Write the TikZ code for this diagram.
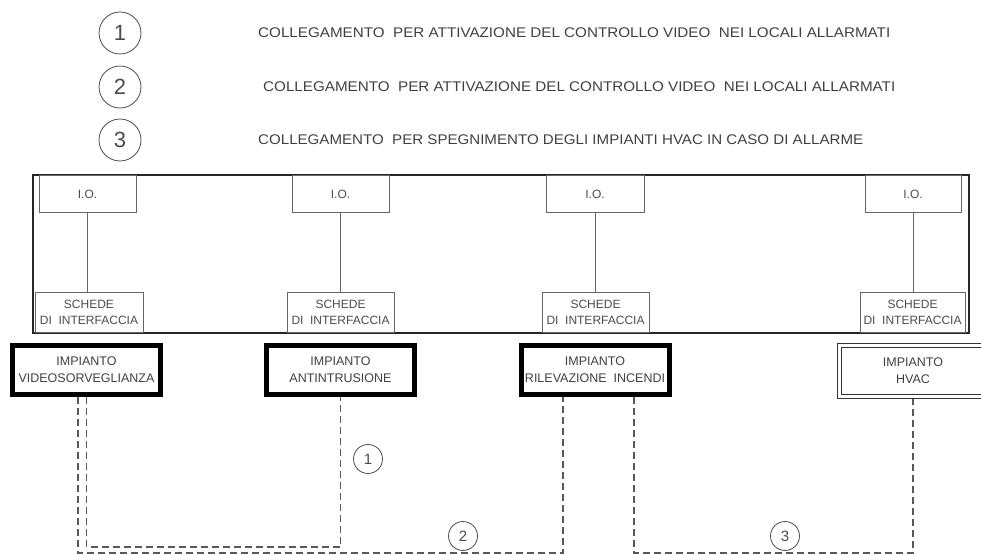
\documentclass[tikz,border=0pt]{standalone}
\usepackage{fontspec}
\setmainfont{Liberation Sans}
\usepackage{graphicx}
\begin{document}
\begin{tikzpicture}[x=1pt,y=-1pt,
  frame/.style={draw=black!85,line width=1.3pt},
  iobox/.style={draw=black!60,line width=0.9pt,inner sep=0pt,text=black!70,font=\fontsize{12}{16}\selectfont,align=center},
  wire/.style={draw=black!60,line width=0.9pt},
  plant/.style={draw=black,line width=5pt,minimum width=148pt,minimum height=49pt,inner sep=0pt,text=black!75,font=\fontsize{12.5}{17}\selectfont,align=center},
  hvac/.style={draw=black!80,line width=0.9pt,double,double distance=3.5pt,minimum width=147pt,minimum height=51pt,inner sep=0pt,text=black!75,font=\fontsize{12.5}{17}\selectfont,align=center},
  link/.style={draw=black!65,line width=1.1pt,dash pattern=on 7pt off 4pt},
  tag/.style={circle,draw=black!70,line width=0.8pt,minimum size=29pt,inner sep=0pt,font=\fontsize{15}{15}\selectfont,text=black!70},
  bigtag/.style={tag,minimum size=42pt,font=\fontsize{22}{22}\selectfont},
  legend/.style={anchor=west,inner sep=0pt,text=black!75,font=\fontsize{14}{14}\selectfont},
]
\useasboundingbox (0,0) rectangle (981,554);
\clip (0,0) rectangle (981,554);

% legend
\node[bigtag] (L1) at (120,33) {1};
\node[bigtag] (L2) at (120,87) {2};
\node[bigtag] (L3) at (120,140) {3};
\node[legend] (T1) at (258,33) {\resizebox{632pt}{\height}{COLLEGAMENTO\ \ PER ATTIVAZIONE DEL CONTROLLO VIDEO\ \ NEI LOCALI ALLARMATI}};
\node[legend] (T2) at (263,87) {\resizebox{632pt}{\height}{COLLEGAMENTO\ \ PER ATTIVAZIONE DEL CONTROLLO VIDEO\ \ NEI LOCALI ALLARMATI}};
\node[legend] (T3) at (258,140) {\resizebox{605pt}{\height}{COLLEGAMENTO\ \ PER SPEGNIMENTO DEGLI IMPIANTI HVAC IN CASO DI ALLARME}};

% frame
\draw[frame] (33,175) rectangle (969,333);

% I.O. boxes
\node[iobox,minimum width=97pt,minimum height=37pt,anchor=north] (io1) at (87.5,175) {I.O.};
\node[iobox,minimum width=97pt,minimum height=37pt,anchor=north] (io2) at (340.5,175) {I.O.};
\node[iobox,minimum width=98pt,minimum height=37pt,anchor=north] (io3) at (595,175) {I.O.};
\node[iobox,minimum width=96pt,minimum height=37pt,anchor=north] (io4) at (913,175) {I.O.};

% interface boards
\node[iobox,minimum width=108pt,minimum height=40pt,anchor=south] (sc1) at (89,333) {SCHEDE\\DI\ \ INTERFACCIA};
\node[iobox,minimum width=107pt,minimum height=40pt,anchor=south] (sc2) at (340.5,333) {SCHEDE\\DI\ \ INTERFACCIA};
\node[iobox,minimum width=107pt,minimum height=40pt,anchor=south] (sc3) at (595.5,333) {SCHEDE\\DI\ \ INTERFACCIA};
\node[iobox,minimum width=105pt,minimum height=40pt,anchor=south] (sc4) at (912.5,333) {SCHEDE\\DI\ \ INTERFACCIA};

\draw[wire] (io1.south) -- (io1.south |- sc1.north);
\draw[wire] (io2.south) -- (io2.south |- sc2.north);
\draw[wire] (io3.south) -- (io3.south |- sc3.north);
\draw[wire] (io4.south) -- (io4.south |- sc4.north);

% plants
\node[plant] (p1) at (86.5,370) {IMPIANTO\\VIDEOSORVEGLIANZA};
\node[plant] (p2) at (340.5,370) {IMPIANTO\\ANTINTRUSIONE};
\node[plant] (p3) at (595,370) {IMPIANTO\\RILEVAZIONE\ \ INCENDI};
\node[hvac] (p4) at (913,371) {IMPIANTO\\HVAC};

% dashed links
\coordinate (b1) at (0,547);
\coordinate (b2) at (0,553);
\draw[link] (p1.south) -- (p1.south |- b1) -| (p2.south);
\draw[link] ([xshift=-8.5pt]p1.south) -- ([xshift=-8.5pt]p1.south |- b2) -| ([xshift=-32pt]p3.south);
\draw[link] ([xshift=39pt]p3.south) -- ([xshift=39pt]p3.south |- b2) -| ([yshift=-2pt]p4.south);

% link tags
\node[tag] (c1) at (368,459) {1};
\node[tag] (c2) at (463,536) {2};
\node[tag] (c3) at (785,536) {3};
\end{tikzpicture}
\end{document}
